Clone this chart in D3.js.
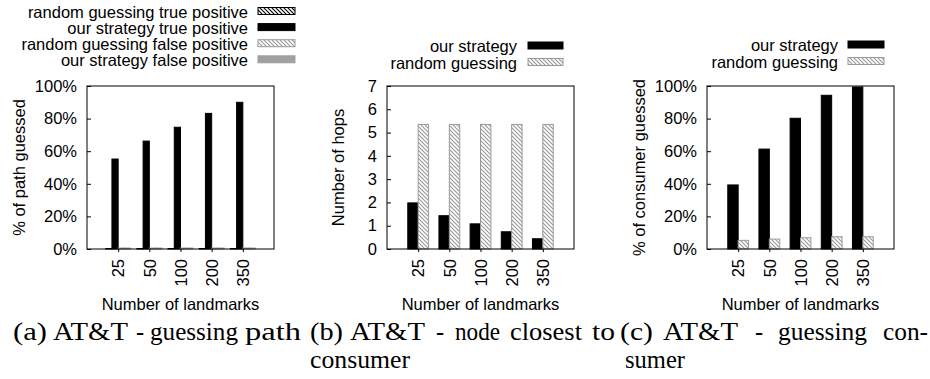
<!DOCTYPE html>
<html>
<head>
<meta charset="utf-8">
<script src="https://cdn.jsdelivr.net/npm/d3@7"></script>
<style>
  body { margin: 0; background: #fff; }
  text { font-family: "Liberation Sans", Arial, Helvetica, sans-serif; fill: #000; }
  .caption { font-family: "Liberation Serif", "Times New Roman", serif; font-size: 24.5px; }
</style>
</head>
<body>
<div id="chart"></div>
<script>
// categories shared by all three panels
const landmarks = ["25", "50", "100", "200", "350"];

// (a) % of path guessed
const pathRandomTP = [0.3, 0.3, 0.3, 0.3, 0.3];
const pathOurTP = [55.2, 66.2, 74.7, 83.2, 90.0];
const pathRandomFP = [0.6, 0.6, 0.6, 0.6, 0.6];
const pathOurFP = [0.6, 0.6, 0.6, 0.6, 0.6];

// (b) number of hops
const hopsOurs = [1.98, 1.43, 1.08, 0.74, 0.44];
const hopsRandom = [5.35, 5.35, 5.35, 5.35, 5.35];

// (c) % of consumer guessed
const consumerOurs = [39.3, 61.3, 80.2, 94.3, 99.4];
const consumerRandom = [5.3, 6.1, 6.9, 7.5, 7.5];

const pctTicks = [0, 20, 40, 60, 80, 100];
const hopTicks = [0, 1, 2, 3, 4, 5, 6, 7];

const width = 930, height = 379;
const fontSize = 16.5;

const svg = d3.select("#chart").append("svg")
  .attr("width", width)
  .attr("height", height);

// hatch patterns
const defs = svg.append("defs");
function hatch(id, color) {
  const p = defs.append("pattern")
    .attr("id", id)
    .attr("patternUnits", "userSpaceOnUse")
    .attr("width", 4).attr("height", 4);
  p.append("rect").attr("width", 4).attr("height", 4).attr("fill", "#fff");
  p.append("path")
    .attr("d", "M-1,-1 L5,5 M-1,3 L1,5 M3,-1 L5,1")
    .attr("stroke", color).attr("stroke-width", 1.1);
}
hatch("hatch-black", "#000");
hatch("hatch-gray", "#999");

const black = { fill: "#000", stroke: "#000" };
const grayHatch = { fill: "url(#hatch-gray)", stroke: "#999" };
const blackHatch = { fill: "url(#hatch-black)", stroke: "#000" };
const graySolid = { fill: "#a0a0a0", stroke: "#a0a0a0" };

const panels = [
  {
    frame: { left: 87, right: 274, top: 86, bottom: 249 },
    yDomain: [0, 100], yTicks: pctTicks, fmt: d => d + "%",
    yTitle: "% of path guessed", yTitleX: 19,
    legend: { textX: 248, boxX: 258, boxW: 37, rows: [17.5, 33.6, 49.7, 65.8] },
    series: [
      { name: "random guessing true positive", values: pathRandomTP, ...blackHatch },
      { name: "our strategy true positive", values: pathOurTP, ...black },
      { name: "random guessing false positive", values: pathRandomFP, ...grayHatch },
      { name: "our strategy false positive", values: pathOurFP, ...graySolid }
    ]
  },
  {
    frame: { left: 387, right: 574, top: 86, bottom: 249 },
    yDomain: [0, 7], yTicks: hopTicks, fmt: d => d,
    yTitle: "Number of hops", yTitleX: 338,
    legend: { textX: 517, boxX: 528, boxW: 35, rows: [52, 68.5] },
    series: [
      { name: "our strategy", values: hopsOurs, ...black },
      { name: "random guessing", values: hopsRandom, ...grayHatch }
    ]
  },
  {
    frame: { left: 707, right: 894, top: 86, bottom: 249 },
    yDomain: [0, 100], yTicks: pctTicks, fmt: d => d + "%",
    yTitle: "% of consumer guessed", yTitleX: 639,
    legend: { textX: 838, boxX: 848, boxW: 36, rows: [51, 67.5] },
    series: [
      { name: "our strategy", values: consumerOurs, ...black },
      { name: "random guessing", values: consumerRandom, ...grayHatch }
    ]
  }
];

panels.forEach(drawPanel);

function drawPanel(cfg) {
  const { left, right, top, bottom } = cfg.frame;
  const g = svg.append("g");

  const x = d3.scaleLinear().domain([-1, landmarks.length]).range([left, right]);
  const y = d3.scaleLinear().domain(cfg.yDomain).range([bottom, top]);

  // clustered bars
  const n = cfg.series.length;
  const w = 1 / (n + 1);
  cfg.series.forEach((s, i) => {
    const off = (i - (n - 1) / 2) * w;
    g.append("g").selectAll("rect")
      .data(s.values)
      .join("rect")
      .attr("x", (d, j) => x(j + off - w / 2))
      .attr("width", x(w) - x(0))
      .attr("y", d => y(d))
      .attr("height", d => y(0) - y(d))
      .attr("fill", s.fill)
      .attr("stroke", s.stroke)
      .attr("stroke-width", 1);
  });

  // y axis, ticks inward
  const yAxis = g.append("g")
    .attr("transform", `translate(${left},0)`)
    .call(d3.axisLeft(y).tickValues(cfg.yTicks).tickFormat(cfg.fmt)
      .tickSizeInner(-4).tickSizeOuter(0).tickPadding(10));
  yAxis.select(".domain").remove();
  yAxis.selectAll("text").style("font-size", fontSize + "px").attr("font-family", null);

  // x axis with rotated labels
  const xAxis = g.append("g")
    .attr("transform", `translate(0,${bottom})`)
    .call(d3.axisBottom(x).tickValues(d3.range(landmarks.length))
      .tickFormat(i => landmarks[i]).tickSizeInner(3).tickSizeOuter(0));
  xAxis.select(".domain").remove();
  xAxis.selectAll("text")
    .attr("transform", "rotate(-90)")
    .attr("text-anchor", "end")
    .attr("x", -10).attr("y", 0).attr("dy", "0.35em")
    .attr("font-family", null)
    .style("font-size", fontSize + "px");

  // frame
  g.append("rect")
    .attr("x", left).attr("y", top)
    .attr("width", right - left).attr("height", bottom - top)
    .attr("fill", "none").attr("stroke", "#000").attr("stroke-width", 1);

  // axis titles
  g.append("text")
    .attr("transform", `translate(${cfg.yTitleX},${(top + bottom) / 2}) rotate(-90)`)
    .attr("text-anchor", "middle")
    .attr("dy", "0.35em")
    .style("font-size", fontSize + "px")
    .text(cfg.yTitle);

  g.append("text")
    .attr("x", (left + right) / 2).attr("y", 310)
    .attr("text-anchor", "middle")
    .style("font-size", fontSize + "px")
    .text("Number of landmarks");

  // legend
  const lg = cfg.legend;
  cfg.series.forEach((s, i) => {
    const row = lg.rows[i];
    g.append("text")
      .attr("x", lg.textX).attr("y", row)
      .attr("text-anchor", "end")
      .style("font-size", fontSize + "px")
      .text(s.name);
    g.append("rect")
      .attr("x", lg.boxX).attr("y", row - 10)
      .attr("width", lg.boxW).attr("height", 7)
      .attr("fill", s.fill).attr("stroke", s.stroke).attr("stroke-width", 1);
  });
}

// sub-figure captions (justified like the LaTeX source): word start and width
const captionWords = [
  { t: "(a)", x: 13, w: 34, line: 0 }, { t: "AT&T", x: 53, w: 75, line: 0 },
  { t: "-", x: 136, w: 0, line: 0 }, { t: "guessing", x: 150, w: 88, line: 0 },
  { t: "path", x: 245, w: 56, line: 0 },
  { t: "(b)", x: 310, w: 33, line: 0 }, { t: "AT&T", x: 350, w: 75, line: 0 },
  { t: "-", x: 436, w: 0, line: 0 }, { t: "node", x: 455, w: 45, line: 0 },
  { t: "closest", x: 510, w: 72, line: 0 }, { t: "to", x: 592, w: 23, line: 0 },
  { t: "consumer", x: 310, w: 100, line: 1 },
  { t: "(c)", x: 620, w: 33, line: 0 }, { t: "AT&T", x: 663, w: 75, line: 0 },
  { t: "-", x: 755, w: 0, line: 0 }, { t: "guessing", x: 778, w: 89, line: 0 },
  { t: "con-", x: 883, w: 45, line: 0 },
  { t: "sumer", x: 625, w: 60, line: 1 }
];
const captionBaselines = [340, 368];

svg.append("g").selectAll("text")
  .data(captionWords)
  .join("text")
  .attr("class", "caption")
  .attr("x", d => d.x)
  .attr("y", d => captionBaselines[d.line])
  .attr("textLength", d => d.w || null)
  .attr("lengthAdjust", "spacingAndGlyphs")
  .text(d => d.t);
</script>
</body>
</html>
